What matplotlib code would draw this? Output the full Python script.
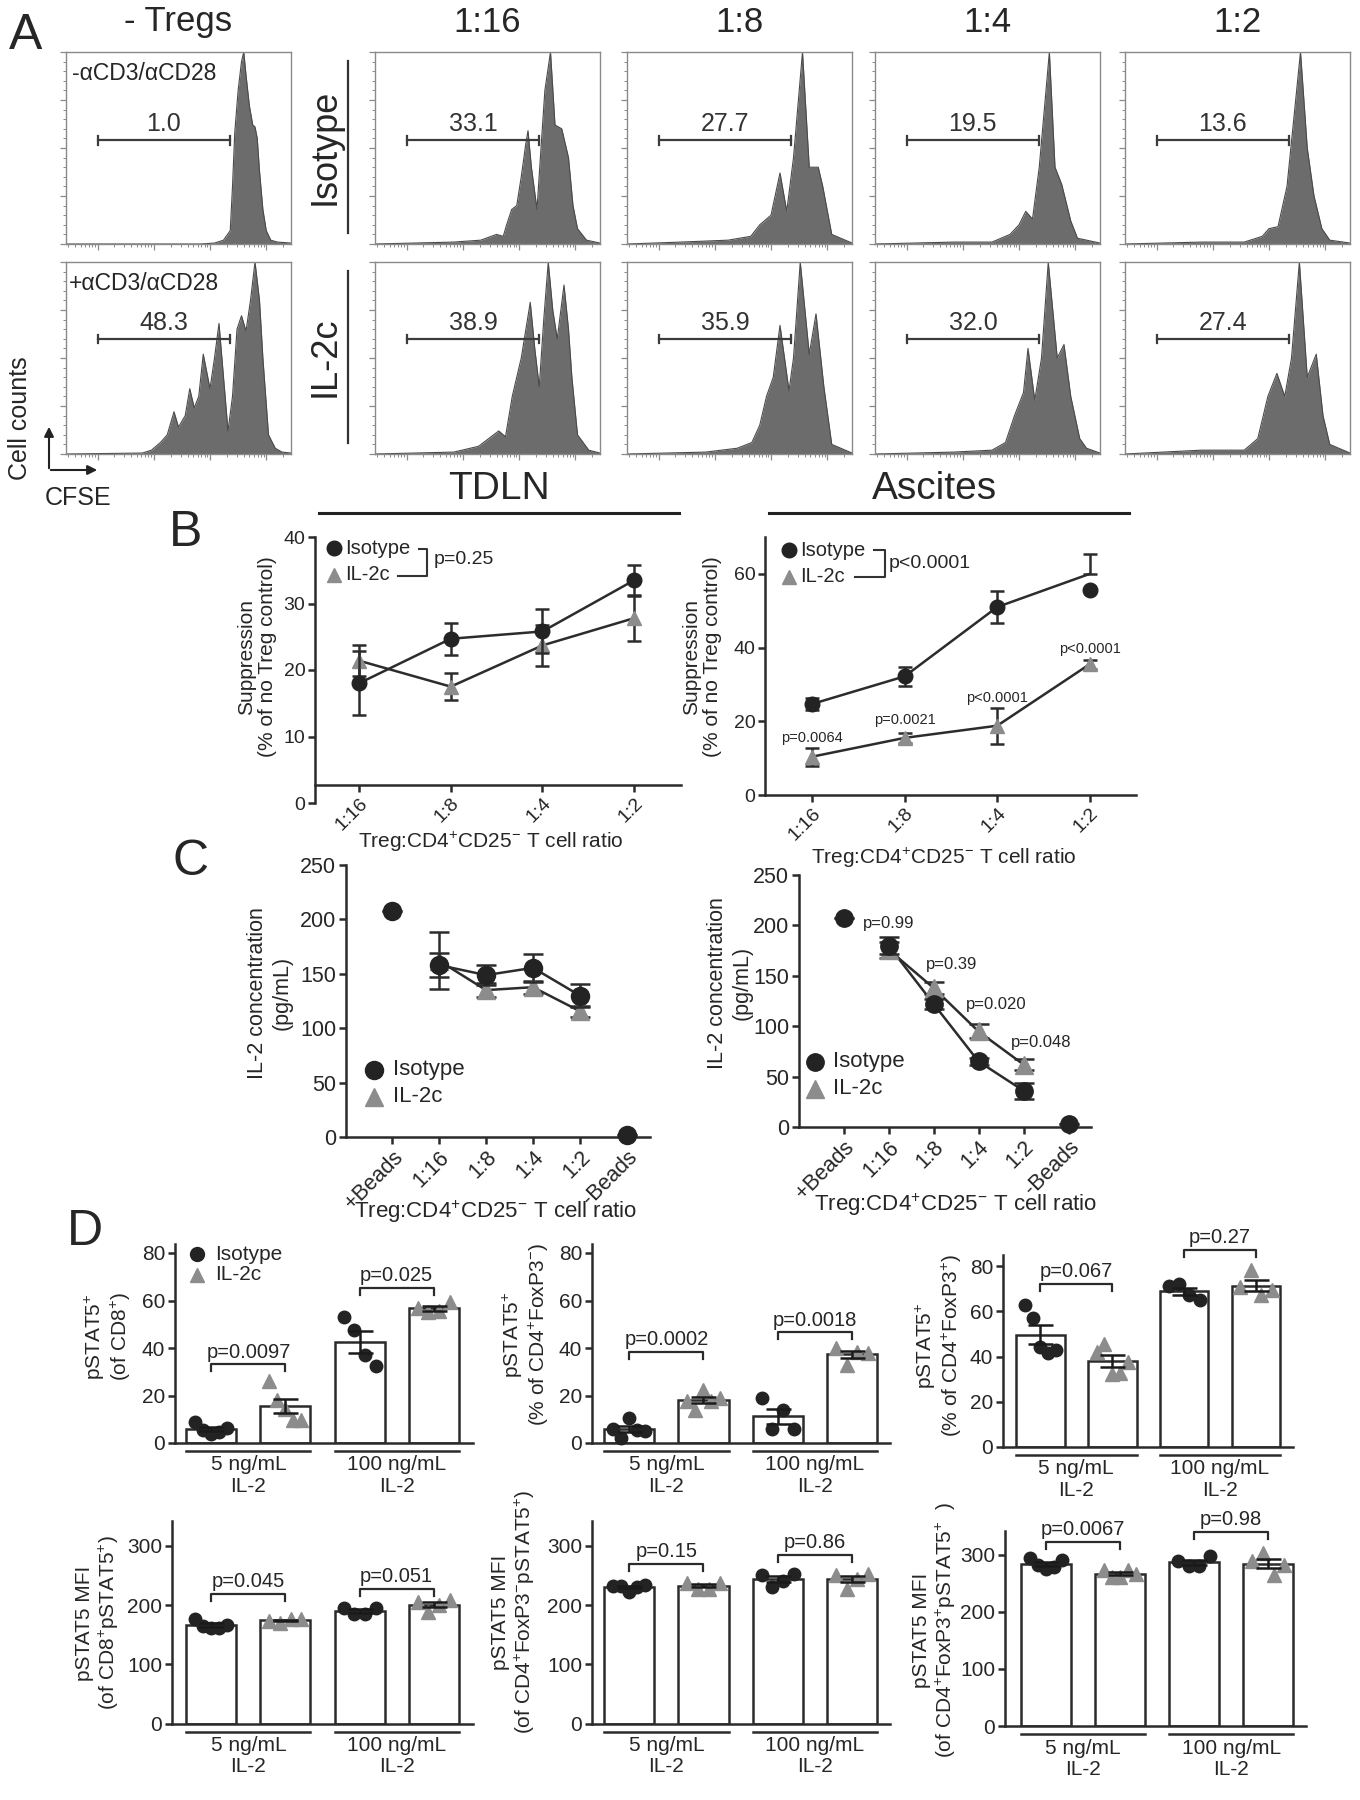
import numpy as np
import matplotlib
matplotlib.use('Agg')
import matplotlib.pyplot as plt
from matplotlib.lines import Line2D
from matplotlib.patches import FancyArrowPatch
from matplotlib.ticker import MultipleLocator, FixedLocator
import matplotlib.transforms as mtrans

plt.rcParams['font.family'] = ['Liberation Sans', 'DejaVu Sans']
plt.rcParams['mathtext.fontset'] = 'custom'
plt.rcParams['mathtext.rm'] = 'Liberation Sans'
plt.rcParams['mathtext.it'] = 'Liberation Sans:italic'
plt.rcParams['mathtext.bf'] = 'Liberation Sans:bold'

# ======================= DATA =======================
ratios = ['1:16', '1:8', '1:4', '1:2']
c_cats = ['+Beads', '1:16', '1:8', '1:4', '1:2', '-Beads']

# ---- Panel A: CFSE histograms (x = log10 CFSE, y = % of max) ----
h_unstim_x = [1.44, 3.84, 4.08, 4.24, 4.36, 4.40, 4.44, 4.50, 4.56, 4.60, 4.64, 4.70, 4.76, 4.80, 4.84, 4.88, 4.94, 5.00, 5.08, 5.20, 5.44]
h_unstim_y = [0, 0, 0.5, 2, 7, 30, 58, 80, 95, 100, 88, 72, 62, 61, 55, 38, 18, 7, 2, 1, 0.5]
h_stim_x = [1.44, 2.80, 2.96, 3.12, 3.24, 3.36, 3.44, 3.56, 3.64, 3.72, 3.80, 3.88, 4.00, 4.08, 4.16, 4.24, 4.32, 4.40, 4.48, 4.56, 4.64, 4.72, 4.80, 4.88, 4.94, 5.04, 5.16, 5.28, 5.44]
h_stim_y = [0, 0.5, 2, 6, 10, 22, 14, 20, 34, 24, 30, 52, 34, 50, 68, 40, 12, 30, 65, 72, 64, 80, 100, 80, 50, 10, 3, 1, 0.5]

h_iso_x = [
    [1.44, 2.84, 3.32, 3.60, 3.72, 3.78, 3.87, 3.96, 4.04, 4.12, 4.16, 4.22, 4.32, 4.38, 4.46, 4.56, 4.64, 4.76, 4.88, 4.96, 5.04, 5.20, 5.44],
    [1.44, 2.40, 3.24, 3.64, 3.80, 4.00, 4.16, 4.28, 4.40, 4.56, 4.68, 4.84, 4.92, 5.08, 5.44],
    [1.44, 2.84, 3.52, 3.84, 4.00, 4.12, 4.24, 4.36, 4.54, 4.64, 4.76, 4.92, 5.04, 5.44],
    [1.44, 2.80, 3.56, 3.88, 4.00, 4.16, 4.32, 4.56, 4.68, 4.80, 4.94, 5.08, 5.44],
]
h_iso_y = [
    [0, 1, 2, 5, 4, 10, 18, 20, 35, 52, 59, 40, 18, 45, 80, 100, 62, 60, 45, 20, 8, 2, 0.5],
    [0, 1, 2, 4, 10, 15, 37, 17, 45, 100, 40, 40, 30, 5, 0.5],
    [0, 1, 1, 5, 10, 17, 13, 40, 100, 40, 31, 12, 3, 0.5],
    [0, 1, 1, 4, 8, 9, 30, 100, 50, 25, 8, 2, 0.5],
]
h_il_x = [
    [1.44, 2.84, 3.28, 3.64, 3.76, 3.88, 4.04, 4.20, 4.28, 4.36, 4.44, 4.52, 4.60, 4.68, 4.80, 4.88, 4.94, 5.04, 5.24, 5.44],
    [1.44, 2.84, 3.40, 3.66, 3.80, 3.92, 4.04, 4.16, 4.32, 4.40, 4.52, 4.68, 4.80, 4.94, 5.08, 5.44],
    [1.44, 2.84, 3.52, 3.76, 3.92, 4.08, 4.16, 4.28, 4.40, 4.52, 4.68, 4.80, 4.92, 5.08, 5.20, 5.44],
    [1.44, 2.80, 3.56, 3.80, 3.98, 4.14, 4.28, 4.40, 4.54, 4.68, 4.84, 4.96, 5.08, 5.44],
]
h_il_y = [
    [0, 1, 4, 12, 9, 30, 50, 79, 55, 35, 70, 100, 75, 60, 88, 65, 40, 10, 2, 0.5],
    [0, 1, 3, 6, 15, 30, 40, 67, 33, 50, 100, 52, 73, 35, 5, 0.5],
    [0, 1, 2, 6, 20, 32, 55, 28, 50, 100, 50, 57, 30, 8, 3, 0.5],
    [0, 2, 2, 8, 30, 42, 30, 50, 100, 40, 52, 20, 5, 0.5],
]
gate_log = [2.0, 4.36]
ctrl_pct = ['1.0', '48.3']
iso_pct = ['33.1', '27.7', '19.5', '13.6']
il_pct = ['38.9', '35.9', '32.0', '27.4']

# ---- Panel B ----
tdln_iso_mean = [18.0, 24.7, 25.8, 33.5]
tdln_iso_sem = [4.8, 2.4, 3.3, 2.3]
tdln_il_mean = [21.4, 17.5, 23.7, 27.8]
tdln_il_sem = [2.3, 2.0, 3.1, 3.5]

asc_iso_mean = [24.7, 32.2, 51.0, 60.0]
asc_iso_dot = [24.7, 32.2, 51.0, 55.5]
asc_iso_err_lo = [1.6, 2.6, 4.4, 0.0]
asc_iso_err_hi = [1.6, 2.6, 4.4, 5.3]
asc_il_mean = [10.4, 15.5, 18.8, 35.5]
asc_il_sem = [2.4, 1.3, 4.9, 1.2]
asc_p = ['p=0.0064', 'p=0.0021', 'p<0.0001', 'p<0.0001']
asc_p_y = [15.4, 20.3, 26.2, 39.5]

# ---- Panel C ----
cl_iso = [207.7, 158.0, 148.8, 155.5, 130.0, 1.5]
cl_iso_sem = [0, 11.0, 9.0, 13.0, 10.5, 0]
cl_il = [np.nan, 162.0, 135.0, 137.7, 115.6, np.nan]
cl_il_sem = [0, 26.0, 6.5, 6.0, 5.0, 0]

cr_iso = [207.5, 180.0, 122.2, 65.0, 36.0, 3.3]
cr_iso_sem = [0, 8.0, 5.0, 3.0, 8.0, 0]
cr_il = [np.nan, 176.0, 138.0, 94.8, 62.0, np.nan]
cr_il_sem = [0, 8.0, 6.0, 7.0, 5.0, 0]
cr_p = ['p=0.99', 'p=0.39', 'p=0.020', 'p=0.048']
cr_p_x = [1.0, 2.4, 3.4, 4.4]
cr_p_y = [202, 161, 122, 84]

# ---- Panel D (individual mice) ----
d_groups = ['5 ng/mL\nIL-2', '100 ng/mL\nIL-2']
d1_iso5 = [8.8, 5.3, 3.9, 4.6, 6.5]
d1_il5 = [26.0, 18.0, 14.5, 9.8, 9.8]
d1_iso100 = [53.1, 47.4, 36.9, 32.4]
d1_il100 = [57.0, 55.2, 55.4, 59.4]
d1_p = ['p=0.0097', 'p=0.025']
d1_p_y = [33.1, 65.4]

d2_iso5 = [5.7, 2.3, 10.7, 5.4, 5.0]
d2_il5 = [17.6, 13.8, 22.2, 17.6, 18.8]
d2_iso100 = [19.1, 6.1, 13.8, 6.1]
d2_il100 = [39.8, 32.9, 38.5, 38.0]
d2_p = ['p=0.0002', 'p=0.0018']
d2_p_y = [38.2, 46.6]

d3_iso5 = [62.8, 57.0, 44.3, 41.4, 43.0]
d3_il5 = [42.2, 45.4, 32.5, 32.8, 37.8]
d3_iso100 = [71.1, 72.0, 67.4, 65.0]
d3_il100 = [70.7, 78.4, 67.1, 69.5]
d3_p = ['p=0.067', 'p=0.27']
d3_p_y = [72.3, 87.2]

d4_iso5 = [177, 164, 161, 161, 167]
d4_il5 = [173, 170, 176, 177]
d4_iso100 = [194.5, 185, 185, 195.7]
d4_il100 = [205.5, 188, 200.6, 208]
d4_p = ['p=0.045', 'p=0.051']
d4_p_y = [219, 227]

d5_iso5 = [233, 233, 222, 230, 234]
d5_il5 = [237, 228, 228, 237]
d5_iso100 = [251, 230, 240, 253]
d5_il100 = [251, 228, 243.6, 253]
d5_p = ['p=0.15', 'p=0.86']
d5_p_y = [269, 285]

d6_iso5 = [295, 283, 275, 278, 292]
d6_il5 = [274, 261, 261, 274, 266]
d6_iso100 = [290, 280, 280, 297.5]
d6_il100 = [290, 304, 264, 281.5]
d6_p = ['p=0.0067', 'p=0.98']
d6_p_y = [323, 340]

# ======================= STYLE =======================
TXT = '#262626'
AXC = '#2b2b2b'
DARK = '#232323'
GRAY = '#8c8c8c'
LINE = '#2c2c2c'
HIST_FILL = '#6c6c6c'
HIST_EDGE = '#4a4a4a'

W, H = 1360, 1800
fig = plt.figure(figsize=(W / 100, H / 100), dpi=100)
fig.patch.set_facecolor('white')


def add_ax(x0, y0, x1, y1):
    return fig.add_axes([x0 / W, 1 - y1 / H, (x1 - x0) / W, (y1 - y0) / H])


def ftext(x, y, s, **kw):
    kw.setdefault('color', TXT)
    return fig.text(x / W, 1 - y / H, s, **kw)


def fline(xs, ys, **kw):
    fig.add_artist(Line2D([x / W for x in xs], [1 - y / H for y in ys],
                          transform=fig.transFigure, **kw))


def fmark(x, y, **kw):
    fig.add_artist(Line2D([x / W], [1 - y / H], transform=fig.transFigure, ls='', **kw))


def style_ax(ax, lw=1.8, fs=13.5):
    for s in ['top', 'right']:
        ax.spines[s].set_visible(False)
    for s in ['left', 'bottom']:
        ax.spines[s].set_linewidth(lw)
        ax.spines[s].set_color(AXC)
    ax.tick_params(width=lw, length=5, color=AXC, labelcolor=TXT, labelsize=fs, pad=2)


# ======================= PANEL A =======================
col_x0 = [66, 375, 627, 875, 1125]
row_y0 = [52, 262]
HW, HH = 225, 192
minor_log = [d + np.log10(k) for d in range(1, 6) for k in range(2, 10)]
minor_log = [m for m in minor_log if 1.44 < m < 5.44]


def hist_panel(ax, xs, ys, label, row):
    ax.fill_between(xs, ys, 0, color=HIST_FILL, lw=0)
    ax.plot(xs, ys, color=HIST_EDGE, lw=0.8)
    ax.set_xlim(1.44, 5.44)
    ax.set_ylim(0, 100)
    for s in ax.spines.values():
        s.set_color('#8a8a8a')
        s.set_linewidth(1.0)
    ax.set_xticks([2, 3, 4, 5])
    ax.xaxis.set_minor_locator(FixedLocator(minor_log))
    ax.yaxis.set_major_locator(MultipleLocator(25))
    ax.yaxis.set_minor_locator(MultipleLocator(5))
    ax.tick_params(which='major', length=4, width=0.9, color='#8a8a8a',
                   labelbottom=False, labelleft=False)
    ax.tick_params(which='minor', length=2, width=0.7, color='#8a8a8a')
    bar_y = 0.54 if row == 0 else 0.60
    tr = mtrans.blended_transform_factory(ax.transData, ax.transAxes)
    ax.plot(gate_log, [bar_y, bar_y], transform=tr, color='#3c3c3c', lw=1.6)
    for gx in gate_log:
        ax.plot([gx, gx], [bar_y - 0.022, bar_y + 0.022], transform=tr, color='#3c3c3c', lw=1.6)
    ax.text(np.mean(gate_log), bar_y + 0.02, label, transform=tr, ha='center', va='bottom',
            fontsize=18, color='#333333')


for r in range(2):
    for c in range(5):
        ax = add_ax(col_x0[c], row_y0[r], col_x0[c] + HW, row_y0[r] + HH)
        if c == 0:
            xs, ys = (h_unstim_x, h_unstim_y) if r == 0 else (h_stim_x, h_stim_y)
            hist_panel(ax, xs, ys, ctrl_pct[r], r)
        elif r == 0:
            hist_panel(ax, h_iso_x[c - 1], h_iso_y[c - 1], iso_pct[c - 1], r)
        else:
            hist_panel(ax, h_il_x[c - 1], h_il_y[c - 1], il_pct[c - 1], r)

ftext(72, 73, '-αCD3/αCD28', fontsize=16.5, ha='left', va='center')
ftext(69, 283, '+αCD3/αCD28', fontsize=16.5, ha='left', va='center')
ftext(178, 22, '- Tregs', fontsize=25, ha='center', va='center')
for c in range(1, 5):
    ftext(col_x0[c] + HW / 2, 22, ratios[c - 1], fontsize=25, ha='center', va='center')
ftext(325, 147, 'Isotype', fontsize=26, rotation=90, ha='center', va='center')
fline([348, 348], [61, 233], color='#333', lw=1.6)
ftext(325, 357, 'IL-2c', fontsize=26, rotation=90, ha='center', va='center')
fline([348, 348], [271, 443], color='#333', lw=1.6)
ftext(20, 418, 'Cell counts', fontsize=18, rotation=90, ha='center', va='center')
ftext(78, 498, 'CFSE', fontsize=18, ha='center', va='center')
fig.add_artist(FancyArrowPatch((49 / W, 1 - 471 / H), (49 / W, 1 - 424 / H), transform=fig.transFigure,
                               arrowstyle='-|>', mutation_scale=14, lw=1.5, color='#222'))
fig.add_artist(FancyArrowPatch((48 / W, 1 - 470 / H), (100 / W, 1 - 470 / H), transform=fig.transFigure,
                               arrowstyle='-|>', mutation_scale=14, lw=1.5, color='#222'))

# section titles
ftext(499, 489, 'TDLN', fontsize=28, ha='center', va='center')
fline([319, 679], [513, 513], color='#222', lw=2.2)
ftext(934, 489, 'Ascites', fontsize=28, ha='center', va='center')
fline([769, 1129], [513, 513], color='#222', lw=2.2)

# panel letters
for lab, x, y in [('A', 26, 36), ('B', 186, 533), ('C', 191, 862), ('D', 85, 1232)]:
    ftext(x, y, lab, fontsize=36, ha='center', va='center')

xlab = 'Treg:CD4$^{+}$CD25$^{-}$ T cell ratio'

# ======================= PANEL B =======================
# TDLN
axB1 = add_ax(315, 537, 681, 803)
style_ax(axB1, fs=14)
xb = np.arange(4)
axB1.plot(xb, tdln_iso_mean, color=LINE, lw=1.8, zorder=2)
axB1.plot(xb, tdln_il_mean, color=LINE, lw=1.8, zorder=2)
axB1.errorbar(xb, tdln_il_mean, yerr=tdln_il_sem, fmt='^', color=GRAY, ms=10, ecolor=LINE,
              elinewidth=1.8, capsize=5, capthick=1.8, zorder=3)
axB1.errorbar(xb, tdln_iso_mean, yerr=tdln_iso_sem, fmt='o', color=DARK, ms=10.5, ecolor=LINE,
              elinewidth=1.8, capsize=5, capthick=1.8, zorder=4)
axB1.set_xlim(-0.48, 3.51)
axB1.set_ylim(0, 40)
axB1.set_yticks([0, 10, 20, 30, 40])
axB1.spines['bottom'].set_position(('data', 2.7))
axB1.set_xticks(xb)
axB1.set_xticklabels(ratios, rotation=45, ha='right', va='top', rotation_mode='anchor')
ftext(491, 842, xlab, fontsize=15, ha='center', va='center')
ftext(257, 657, 'Suppression\n(% of no Treg control)', fontsize=15, rotation=90,
      ha='center', va='center', linespacing=1.15)
# legend with bracket
fmark(334, 548, marker='o', ms=10.5, color=DARK)
ftext(345, 548, 'Isotype', fontsize=14.5, ha='left', va='center')
fmark(334, 575, marker='^', ms=10, color=GRAY)
ftext(345, 575, 'IL-2c', fontsize=14.5, ha='left', va='center')
fline([419, 427, 427, 398], [549, 549, 576, 576], color='#333', lw=1.5)
ftext(434, 560, 'p=0.25', fontsize=14, ha='left', va='center')

# Ascites
axB2 = add_ax(765, 537, 1136, 795)
style_ax(axB2, fs=14)
axB2.plot(xb, asc_iso_mean, color=LINE, lw=1.8, zorder=2)
axB2.plot(xb, asc_il_mean, color=LINE, lw=1.8, zorder=2)
axB2.errorbar(xb, asc_il_mean, yerr=asc_il_sem, fmt='^', color=GRAY, ms=10, ecolor=LINE,
              elinewidth=1.8, capsize=5, capthick=1.8, zorder=3)
axB2.errorbar(xb, asc_iso_mean, yerr=[asc_iso_err_lo, asc_iso_err_hi], fmt='none', ecolor=LINE,
              elinewidth=1.8, capsize=5, capthick=1.8, zorder=3)
axB2.plot(xb, asc_iso_dot, ls='', marker='o', color=DARK, ms=10.5, zorder=4)
for i in range(4):
    axB2.text(xb[i], asc_p_y[i], asc_p[i], fontsize=10.5, ha='center', va='center', color=TXT)
axB2.set_xlim(-0.51, 3.5)
axB2.set_ylim(0, 70)
axB2.set_yticks([0, 20, 40, 60])
axB2.set_xticks(xb)
axB2.set_xticklabels(ratios, rotation=45, ha='right', va='top', rotation_mode='anchor')
ftext(944, 858, xlab, fontsize=15, ha='center', va='center')
ftext(702, 657, 'Suppression\n(% of no Treg control)', fontsize=15, rotation=90,
      ha='center', va='center', linespacing=1.15)
fmark(789, 550, marker='o', ms=10.5, color=DARK)
ftext(800, 550, 'Isotype', fontsize=14.5, ha='left', va='center')
fmark(789, 577, marker='^', ms=10, color=GRAY)
ftext(800, 577, 'IL-2c', fontsize=14.5, ha='left', va='center')
fline([874, 885, 885, 855], [550, 550, 577, 577], color='#333', lw=1.5)
ftext(889, 563, 'p<0.0001', fontsize=14, ha='left', va='center')


# ======================= PANEL C =======================
def c_panel(box, xlim, iso, iso_sem, il, il_sem, ms):
    ax = add_ax(*box)
    style_ax(ax, fs=15.5)
    xc = np.arange(len(c_cats))
    il = np.asarray(il, float)
    iso = np.asarray(iso, float)
    mid = slice(1, 5)
    ax.plot(xc[mid], iso[mid], color=LINE, lw=1.8, zorder=2)
    ax.plot(xc[mid], il[mid], color=LINE, lw=1.8, zorder=2)
    ok = ~np.isnan(il)
    ax.errorbar(xc[ok], il[ok], yerr=np.asarray(il_sem)[ok], fmt='^', color=GRAY, ms=ms,
                ecolor=LINE, elinewidth=1.8, capsize=7, capthick=1.8, zorder=3)
    ax.errorbar(xc, iso, yerr=iso_sem, fmt='o', color=DARK, ms=ms, ecolor=LINE,
                elinewidth=1.8, capsize=7, capthick=1.8, zorder=4)
    ax.set_xlim(*xlim)
    ax.set_ylim(0, 250)
    ax.set_yticks([0, 50, 100, 150, 200, 250])
    ax.set_xticks(xc)
    ax.set_xticklabels(c_cats, rotation=45, ha='right', va='top', rotation_mode='anchor')
    for child in ax.get_children():
        if hasattr(child, 'set_clip_on'):
            child.set_clip_on(False)
    return ax


axC1 = c_panel((346, 865, 650, 1137), (-0.98, 5.49), cl_iso, cl_iso_sem, cl_il, cl_il_sem, 13)
ftext(495, 1212, xlab, fontsize=16, ha='center', va='center')
ftext(270, 993, 'IL-2 concentration\n(pg/mL)', fontsize=15.5, rotation=90,
      ha='center', va='center', linespacing=1.2)
fmark(374, 1070, marker='o', ms=13, color=DARK)
ftext(393, 1070, 'Isotype', fontsize=16, ha='left', va='center')
fmark(374, 1097, marker='^', ms=13, color=GRAY)
ftext(393, 1097, 'IL-2c', fontsize=16, ha='left', va='center')

axC2 = c_panel((799, 875, 1091, 1127), (-0.99, 5.5), cr_iso, cr_iso_sem, cr_il, cr_il_sem, 12.5)
for i in range(4):
    axC2.text(cr_p_x[i], cr_p_y[i], cr_p[i], fontsize=12, ha='center', va='center', color=TXT)
ftext(955, 1205, xlab, fontsize=16, ha='center', va='center')
ftext(730, 983, 'IL-2 concentration\n(pg/mL)', fontsize=15.5, rotation=90,
      ha='center', va='center', linespacing=1.2)
fmark(815, 1062, marker='o', ms=12.5, color=DARK)
ftext(833, 1062, 'Isotype', fontsize=16, ha='left', va='center')
fmark(815, 1089, marker='^', ms=12.5, color=GRAY)
ftext(833, 1089, 'IL-2c', fontsize=16, ha='left', va='center')


# ======================= PANEL D =======================
def d_panel(box, xlim, ytop, yticks, sets, pvals, p_y, ylabel, ylab_xy):
    ax = add_ax(*box)
    style_ax(ax, fs=15)
    bw = 0.675
    styles = [('o', DARK), ('^', GRAY), ('o', DARK), ('^', GRAY)]
    for pos, vals in enumerate(sets):
        vals = np.asarray(vals, float)
        m = vals.mean()
        sem = vals.std(ddof=1) / np.sqrt(len(vals))
        mk, col = styles[pos]
        ax.bar(pos, m, width=bw, facecolor='white', edgecolor=AXC, linewidth=1.8, zorder=1)
        offs = np.linspace(-0.32, 0.32, len(vals)) * bw
        ax.plot(pos + offs, vals, ls='', marker=mk, ms=9.5 if mk == '^' else 9, color=col,
                zorder=3, clip_on=False)
        ax.errorbar(pos, m, yerr=sem, fmt='none', ecolor='#1a1a1a', elinewidth=1.8,
                    capsize=9, capthick=1.8, zorder=4)
    ax.set_xlim(*xlim)
    ax.set_ylim(0, ytop)
    ax.set_yticks(yticks)
    ax.set_xticks([0.5, 2.5])
    ax.set_xticklabels(d_groups, linespacing=1.15, fontsize=15)
    ax.tick_params(axis='x', length=0, pad=9)
    # group underlines
    ax_h = box[3] - box[1]
    tr = mtrans.blended_transform_factory(ax.transData, ax.transAxes)
    for g in (0, 2):
        ax.plot([g - bw / 2, g + 1 + bw / 2], [-8 / ax_h, -8 / ax_h], transform=tr,
                color=AXC, lw=1.8, clip_on=False)
    # significance brackets
    tip = 7 / ax_h * ytop
    for g, txt, yb in zip((0, 2), pvals, p_y):
        ax.plot([g, g, g + 1, g + 1], [yb - tip, yb, yb, yb - tip], color=AXC, lw=1.6,
                clip_on=False, zorder=5)
        ax.annotate(txt, (g + 0.5, yb), xytext=(0, 2), textcoords='offset points',
                    ha='center', va='bottom', fontsize=14.5, color=TXT, annotation_clip=False)
    ftext(ylab_xy[0], ylab_xy[1], ylabel, fontsize=15, rotation=90, ha='center',
          va='center', linespacing=1.15)
    return ax


axD1 = d_panel((175, 1243.5, 473, 1443), (-0.49, 3.53), 84, [0, 20, 40, 60, 80],
               [d1_iso5, d1_il5, d1_iso100, d1_il100], d1_p, d1_p_y,
               'pSTAT5$^{+}$\n(of CD8$^{+}$)', (108, 1337))
axD2 = d_panel((592, 1243.5, 890, 1443), (-0.5, 3.51), 84, [0, 20, 40, 60, 80],
               [d2_iso5, d2_il5, d2_iso100, d2_il100], d2_p, d2_p_y,
               'pSTAT5$^{+}$\n(% of CD4$^{+}$FoxP3$^{-}$)', (526, 1335))
axD3 = d_panel((1003, 1255, 1293, 1447), (-0.52, 3.515), 85, [0, 20, 40, 60, 80],
               [d3_iso5, d3_il5, d3_iso100, d3_il100], d3_p, d3_p_y,
               'pSTAT5$^{+}$\n(% of CD4$^{+}$FoxP3$^{+}$)', (939, 1346))
axD4 = d_panel((172, 1521, 473, 1723.5), (-0.53, 3.53), 342, [0, 100, 200, 300],
               [d4_iso5, d4_il5, d4_iso100, d4_il100], d4_p, d4_p_y,
               'pSTAT5 MFI\n(of CD8$^{+}$pSTAT5$^{+}$)', (98, 1623))
axD5 = d_panel((592, 1521, 890, 1723.5), (-0.5, 3.51), 342, [0, 100, 200, 300],
               [d5_iso5, d5_il5, d5_iso100, d5_il100], d5_p, d5_p_y,
               'pSTAT5 MFI\n(of CD4$^{+}$FoxP3$^{-}$pSTAT5$^{+}$)', (514, 1612))
axD6 = d_panel((1005, 1531, 1306, 1726), (-0.55, 3.51), 342, [0, 100, 200, 300],
               [d6_iso5, d6_il5, d6_iso100, d6_il100], d6_p, d6_p_y,
               'pSTAT5 MFI\n(of CD4$^{+}$FoxP3$^{+}$pSTAT5$^{+}$  )', (935, 1630))

# D legend
fmark(197, 1254, marker='o', ms=10, color=DARK)
ftext(215, 1254, 'Isotype', fontsize=15, ha='left', va='center')
fmark(197, 1275, marker='^', ms=10, color=GRAY)
ftext(215, 1275, 'IL-2c', fontsize=15, ha='left', va='center')

fig.savefig('out.png', dpi=100, facecolor='white')
